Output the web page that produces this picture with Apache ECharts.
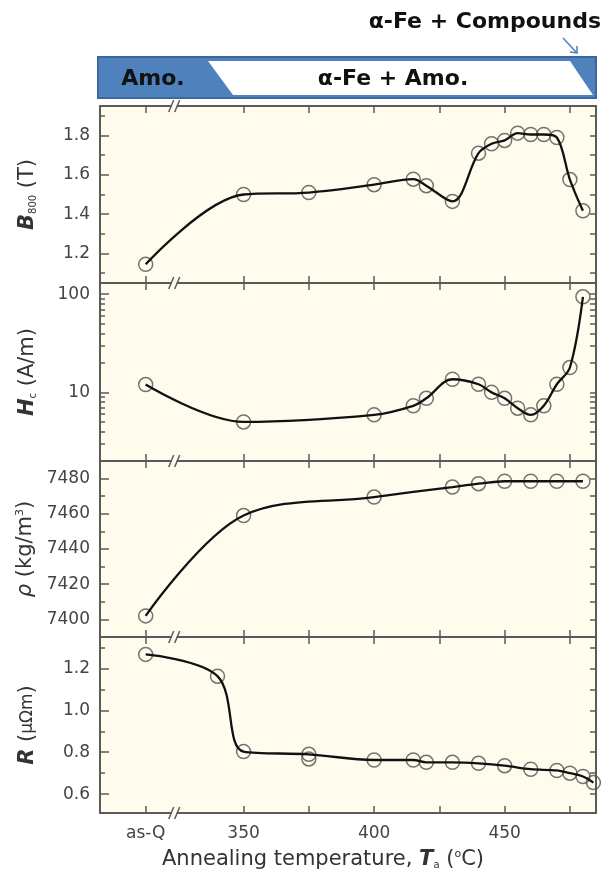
<!DOCTYPE html>
<html><head><meta charset="utf-8">
<script src="https://cdn.jsdelivr.net/npm/echarts@6/dist/echarts.min.js"></script>
<style>html,body{margin:0;padding:0;background:#fff}#c{width:603px;height:878px}</style>
</head><body><div id="c"></div>
<script>
// x-position used for the as-quenched ("as-Q") sample
const AS_Q = 312.5;

// B800 (T)
const T_B  = [AS_Q, 350, 375, 400, 415, 420, 430, 440, 445, 450, 455, 460, 465, 470, 475, 480];
const B800 = [1.145, 1.50, 1.51, 1.55, 1.578, 1.545, 1.465, 1.71, 1.758, 1.775, 1.812, 1.805, 1.805, 1.79, 1.576, 1.417];

// Hc (A/m)
const T_H = [AS_Q, 350, 400, 415, 420, 430, 440, 445, 450, 455, 460, 465, 470, 475, 480];
const HC  = [12.0, 5.0, 5.9, 7.3, 8.7, 13.6, 12.1, 10.0, 8.7, 6.9, 5.9, 7.3, 12.1, 17.9, 94];

// rho (kg/m3)
const T_RHO = [AS_Q, 350, 400, 430, 440, 450, 460, 470, 480];
const RHO   = [7402, 7459, 7469.5, 7475.2, 7477.1, 7478.5, 7478.5, 7478.5, 7478.5];

// R (micro-ohm m)
const T_R = [AS_Q, 340, 350, 375, 375, 400, 415, 420, 430, 440, 450, 460, 470, 475, 480, 484];
const R   = [1.267, 1.163, 0.803, 0.79, 0.768, 0.763, 0.763, 0.752, 0.752, 0.747, 0.736, 0.719, 0.713, 0.70, 0.684, 0.655];

// tick values
const X_TICKS  = [AS_Q, 350, 375, 400, 425, 450, 475];
const X_LABELS = [AS_Q, 350, 400, 450];
const B_LABELS = [1.2, 1.4, 1.6, 1.8];
const B_MINOR  = [1.1, 1.3, 1.5, 1.7, 1.9];
const H_LABELS = [10, 100];
const H_MINOR  = [2, 3, 4, 5, 6, 7, 8, 9, 20, 30, 40, 50, 60, 70, 80, 90];
const RHO_LABELS = [7400, 7420, 7440, 7460, 7480];
const RHO_MINOR  = [7410, 7430, 7450, 7470];
const R_LABELS = [0.6, 0.8, 1.0, 1.2];
const R_MINOR  = [0.7, 0.9, 1.1, 1.3];

const FONT = 'DejaVu Sans';
const AXC = '#5a5a5a';
const GRIDS = [{top:106,height:177},{top:283,height:178},{top:461,height:176},{top:637,height:176}];

const rich = {
  b:   {fontWeight:'bold', fontStyle:'italic', fontSize:21, fontFamily:FONT, color:'#333'},
  sub: {fontSize:10, fontFamily:FONT, color:'#333', verticalAlign:'bottom', padding:[6,0,0,0]},
  sup: {fontSize:11, fontFamily:FONT, color:'#333', verticalAlign:'top', padding:[0,0,6,0]},
  sm:  {fontSize:17, fontFamily:FONT, color:'#333'},
  it:  {fontStyle:'italic', fontSize:21, fontFamily:FONT, color:'#333'}
};

const panels = [
  {name:'{b|B}{sub|800} (T)', type:'value', min:1.05, max:1.95, labels:B_LABELS, minor:B_MINOR, fmt:v=>v.toFixed(1), T:T_B, V:B800},
  {name:'{b|H}{sub|c} (A/m)', type:'log', min:2, max:130, labels:H_LABELS, minor:H_MINOR, fmt:v=>String(v), T:T_H, V:HC},
  {name:'{it|ρ} (kg/m{sup|3})', type:'value', min:7390, max:7490, labels:RHO_LABELS, minor:RHO_MINOR, fmt:v=>String(v), T:T_RHO, V:RHO},
  {name:'{b|R} ({sm|μΩm})', type:'value', min:0.51, max:1.35, labels:R_LABELS, minor:R_MINOR, fmt:v=>v.toFixed(1), T:T_R, V:R}
];

const grid = GRIDS.map(g => ({left:100, width:496, top:g.top, height:g.height, show:true,
  backgroundColor:'#fffcee', borderWidth:0}));

const xAxis = [], yAxis = [], series = [];
panels.forEach((p, i) => {
  const last = i === panels.length - 1;
  ['bottom','top'].forEach(pos => {
    const ax = {
      type:'value', gridIndex:i, position:pos, min:295, max:485,
      splitLine:{show:false},
      axisLine:{show:true, onZero:false, lineStyle:{color:AXC, width:2}},
      axisTick:{show:true, inside:true, length:7, customValues:X_TICKS, lineStyle:{color:AXC, width:1.5}},
      axisLabel:{show:false}
    };
    if (pos === 'bottom' && last) {
      ax.axisLabel = {show:true, customValues:X_LABELS, margin:12, fontFamily:FONT, fontSize:17, color:'#444',
        formatter:v => (Math.abs(v - AS_Q) < 1e-6 ? 'as-Q' : String(v))};
      ax.name = 'Annealing temperature, {b|T}{sub|a} ({sup|o}C)';
      ax.nameLocation = 'middle';
      ax.nameGap = 36;
      ax.nameTextStyle = {fontFamily:FONT, fontSize:21, color:'#333', padding:[0,50,0,0], rich:Object.assign({}, rich,
        {b:Object.assign({}, rich.b, {fontSize:21})})};
    }
    xAxis.push(ax);
  });
  const base = {type:p.type, gridIndex:i, min:p.min, max:p.max, splitLine:{show:false}};
  if (p.type === 'log') base.logBase = 10;
  yAxis.push(Object.assign({}, base, {
    position:'left',
    axisLine:{show:true, lineStyle:{color:AXC, width:2}},
    axisTick:{show:true, inside:true, length:9, customValues:p.labels, lineStyle:{color:AXC, width:1.5}},
    axisLabel:{show:true, customValues:p.labels, margin:10, fontFamily:FONT, fontSize:17, color:'#444', formatter:p.fmt},
    name:p.name, nameLocation:'middle', nameGap:62,
    nameTextStyle:{fontFamily:FONT, fontSize:21, color:'#333', rich:rich}
  }));
  yAxis.push(Object.assign({}, base, {
    position:'left',
    axisLine:{show:false},
    axisTick:{show:true, inside:true, length:5, customValues:p.minor, lineStyle:{color:AXC, width:1.5}},
    axisLabel:{show:false}
  }));
  yAxis.push(Object.assign({}, base, {
    position:'right',
    axisLine:{show:true, lineStyle:{color:AXC, width:2}},
    axisTick:{show:true, inside:true, length:6, customValues:p.labels.concat(p.minor), lineStyle:{color:AXC, width:1.5}},
    axisLabel:{show:false}
  }));

  const pts = p.T.map((t, k) => [t, p.V[k]]);
  const seen = new Set();
  const linePts = pts.filter(d => { if (seen.has(d[0])) return false; seen.add(d[0]); return true; });
  series.push({
    type:'line', xAxisIndex:2*i, yAxisIndex:3*i, data:linePts, smooth:0.35,
    showSymbol:false, lineStyle:{color:'#111', width:2.3}, z:3, silent:true
  });
  series.push({
    type:'scatter', xAxisIndex:2*i, yAxisIndex:3*i, data:pts, symbol:'circle', symbolSize:14,
    itemStyle:{color:'rgba(0,0,0,0)', borderColor:'#505050', borderWidth:1.5}, z:2, silent:true
  });
});

const chart = echarts.init(document.getElementById('c'), null, {renderer:'canvas'});
chart.setOption({animation:false, grid, xAxis, yAxis, series});

// decorations: phase banner, arrow and axis-break marks
const gfx = [
  {type:'rect', shape:{x:98, y:57, width:498, height:41}, style:{fill:'#4f81bd', stroke:'#3b679c', lineWidth:2}},
  {type:'polygon', shape:{points:[[208,61],[570,61],[593,95],[233,95]]}, style:{fill:'#ffffff'}},
  {type:'text', x:153, y:79, style:{text:'Amo.', font:'bold 22px "DejaVu Sans"', fill:'#111', align:'center', verticalAlign:'middle'}},
  {type:'text', x:393, y:79, style:{text:'α-Fe + Amo.', font:'bold 22px "DejaVu Sans"', fill:'#111', align:'center', verticalAlign:'middle'}},
  {type:'text', x:601, y:22, style:{text:'α-Fe + Compounds', font:'bold 22px "DejaVu Sans"', fill:'#111', align:'right', verticalAlign:'middle'}},
  {type:'line', shape:{x1:563, y1:38, x2:577, y2:53}, style:{stroke:'#4f81bd', lineWidth:1.5}},
  {type:'polyline', shape:{points:[[570,52],[577,53],[577,46]]}, style:{stroke:'#4f81bd', lineWidth:1.5, fill:null}}
];
const bx = chart.convertToPixel({xAxisIndex:0}, 324);
const edges = [GRIDS[0].top].concat(GRIDS.map(g => g.top + g.height));
edges.forEach(y => {
  gfx.push({type:'polygon', z:100, shape:{points:[[bx-6,y+5],[bx-1,y+5],[bx+3,y-5],[bx-2,y-5]]}, style:{fill:'#fffcee'}});
  gfx.push({type:'line', z:101, shape:{x1:bx-7, y1:y+6, x2:bx-2, y2:y-6}, style:{stroke:AXC, lineWidth:1.5}});
  gfx.push({type:'line', z:101, shape:{x1:bx-1, y1:y+6, x2:bx+4, y2:y-6}, style:{stroke:AXC, lineWidth:1.5}});
});
chart.setOption({graphic:gfx});
</script></body></html>
